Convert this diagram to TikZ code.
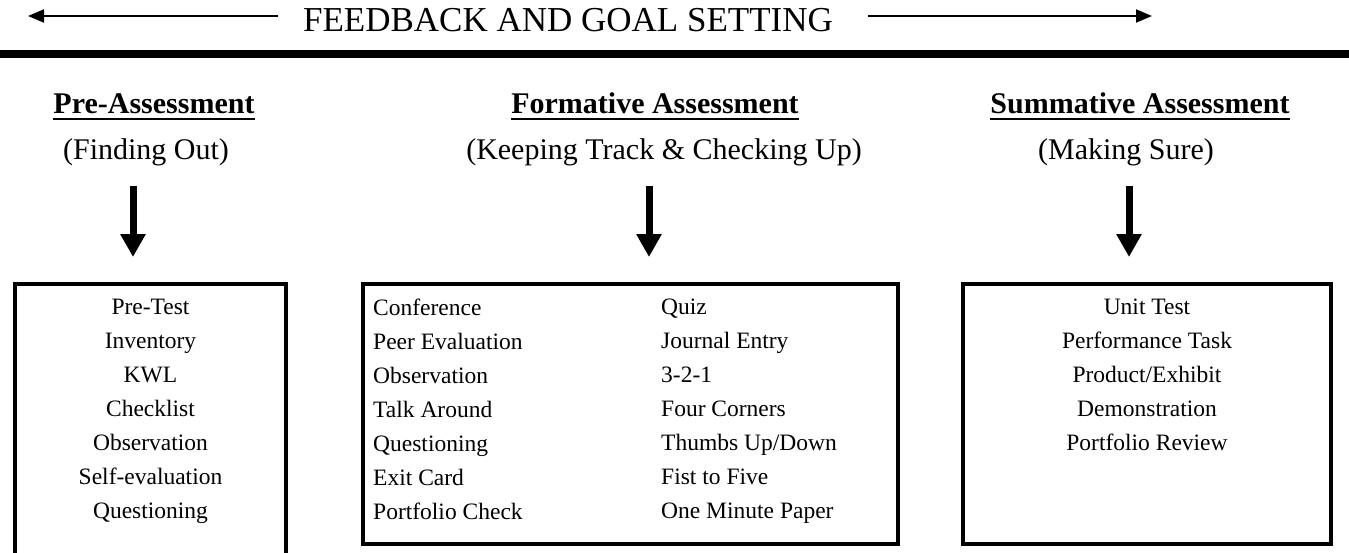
\documentclass[tikz,border=0pt]{standalone}
\usepackage{fontspec}
\setmainfont{Liberation Serif}
\usetikzlibrary{arrows.meta,positioning}

\tikzset{
  listbox/.style={draw, line width=4pt, anchor=north west, inner sep=0pt, outer sep=0pt},
  heading/.style={font=\fontsize{30}{36}\selectfont\bfseries, inner sep=0pt, anchor=base},
  subheading/.style={font=\fontsize{30}{36}\selectfont, inner sep=0pt, anchor=base},
  items/.style={font=\fontsize{23.5}{34}\selectfont, inner sep=0pt},
  downarrow/.style={line width=7pt, -{Triangle[length=23pt,width=24pt]}},
  fbarrow/.style={line width=2pt, -{Triangle[length=16pt,width=13pt]}},
  uline/.style={line width=2pt},
}

\begin{document}
\begin{tikzpicture}[x=1pt, y=-1pt]

  \useasboundingbox (0,0) rectangle (1349,552);
  \clip (0,0) rectangle (1349,552);

  % Banner
  \node[font=\fontsize{35}{40}\selectfont, inner sep=0pt, anchor=base] (title) at (568,31) {FEEDBACK AND GOAL SETTING};
  \coordinate (fbL) at (278,16);
  \coordinate (fbLtip) at (28,16);
  \coordinate (fbR) at (868,16);
  \coordinate (fbRtip) at (1152,16);
  \draw[fbarrow] (fbL) -- (fbLtip);
  \draw[fbarrow] (fbR) -- (fbRtip);
  \fill (0,50) rectangle (1349,58);

  % Headings
  \node[heading]    (preh) at (154,113) {Pre-Assessment};
  \node[subheading] (pres) at (146,159) {(Finding Out)};
  \node[heading]    (formh) at (655,113) {Formative Assessment};
  \node[subheading] (forms) at (664,159) {(Keeping Track \& Checking Up)};
  \node[heading]    (sumh) at (1140,113) {Summative Assessment};
  \node[subheading] (sums) at (1126,159) {(Making Sure)};

  \draw[uline] ([yshift=-6pt]preh.base west) -- ([yshift=-6pt]preh.base east);
  \draw[uline] ([yshift=-6pt]formh.base west) -- ([yshift=-6pt]formh.base east);
  \draw[uline] ([yshift=-6pt]sumh.base west) -- ([yshift=-6pt]sumh.base east);

  % Boxes
  \node[listbox, minimum width=271pt, minimum height=320pt] (prebox)  at (15,284)  {};
  \node[listbox, minimum width=535pt, minimum height=260pt] (formbox) at (363,284) {};
  \node[listbox, minimum width=368pt, minimum height=260pt] (sumbox)  at (963,284) {};

  % Lists
  \node[items, align=center, below=15pt of prebox.north] (prelist)
    {Pre-Test\\Inventory\\KWL\\Checklist\\Observation\\Self-evaluation\\Questioning};
  \node[items, align=left, below right=15pt and 10pt of formbox.north west] (formlistA)
    {Conference\\Peer Evaluation\\Observation\\Talk Around\\Questioning\\Exit Card\\Portfolio Check};
  \node[items, align=left, anchor=north west] (formlistB) at (661,299)
    {Quiz\\Journal Entry\\3-2-1\\Four Corners\\Thumbs Up/Down\\Fist to Five\\One Minute Paper};
  \node[items, align=center, below=15pt of sumbox.north] (sumlist)
    {Unit Test\\Performance Task\\Product/Exhibit\\Demonstration\\Portfolio Review};

  % Arrows
  \coordinate (preA) at (133,186);
  \coordinate (formA) at (649,186);
  \coordinate (sumA) at (1129,186);
  \draw[downarrow, shorten >=27pt] (preA) -- (preA |- prebox.north);
  \draw[downarrow, shorten >=27pt] (formA) -- (formA |- formbox.north);
  \draw[downarrow, shorten >=27pt] (sumA) -- (sumA |- sumbox.north);

\end{tikzpicture}
\end{document}
